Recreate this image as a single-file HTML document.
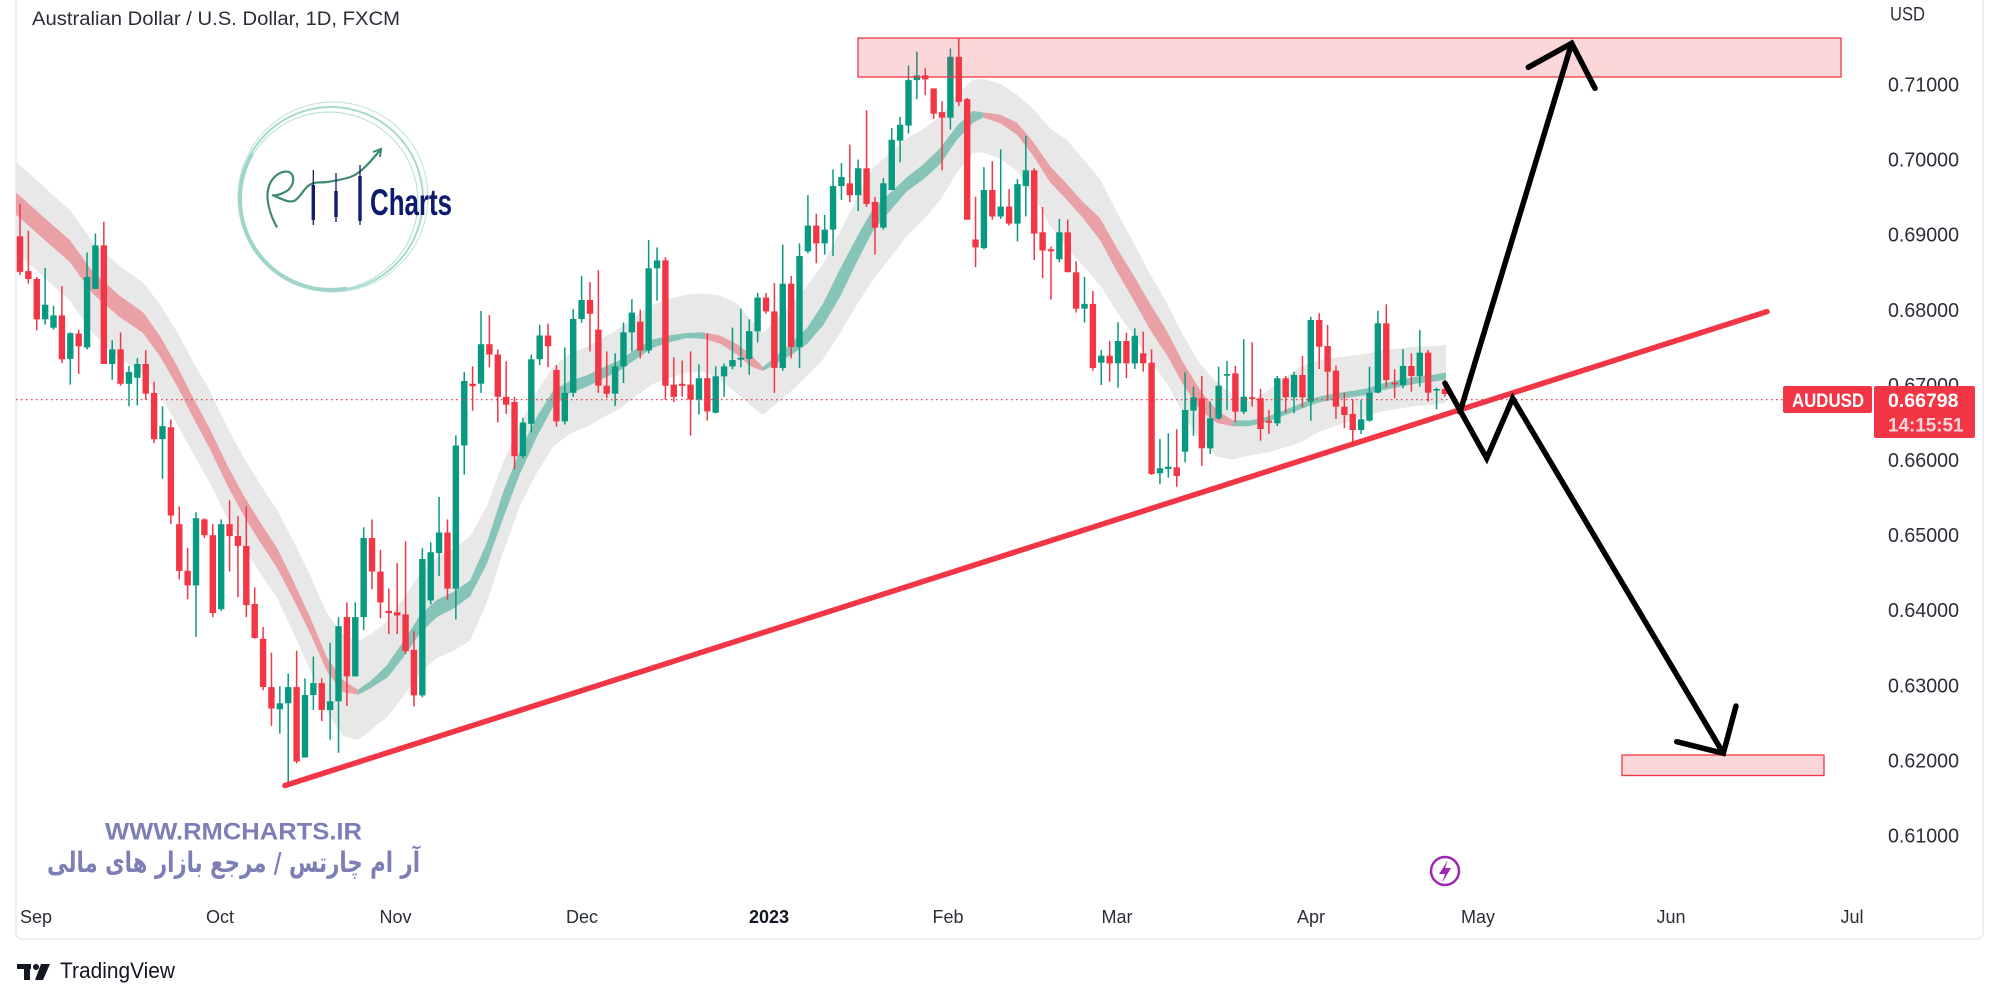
<!DOCTYPE html>
<html><head><meta charset="utf-8">
<style>
html,body{margin:0;padding:0;background:#fff;width:2000px;height:1000px;overflow:hidden}
svg{display:block;font-family:"Liberation Sans",Arial,sans-serif}
</style></head><body>
<svg id="s" width="2000" height="1000" viewBox="0 0 2000 1000" xmlns="http://www.w3.org/2000/svg">
<rect width="2000" height="1000" fill="#fff"/>
<rect x="16" y="-10" width="1967" height="949" rx="6" fill="none" stroke="#e6e8ee" stroke-width="1.5"/>
<text x="32" y="25" font-size="19" fill="#2a2e39" textLength="368" lengthAdjust="spacingAndGlyphs">Australian Dollar / U.S. Dollar, 1D, FXCM</text>

<!-- logo -->
<g fill="none">
<circle cx="331" cy="199" r="92" stroke="#a7d9cf" stroke-width="2"/>
<circle cx="333" cy="197" r="95" stroke="#c6e8e1" stroke-width="1.2"/>
<circle cx="329" cy="201" r="89" stroke="#bde3dc" stroke-width="1.2"/>
<path d="M346.8,288.6 A91,91 0 0 1 252.2,153.5" stroke="#9fd4ca" stroke-width="4"/>
<path d="M276.7,226.7 C270,215 266,200 268,190 C270,178 280,170 289,172 C296,175 294,188 285,192 C280,195 274,196 272,195 C280,198 288,203 294,201 C300,198 303,190 308,186 C314,181 320,183 327,182 C334,181 340,180 347,178 C355,176 360,172 366,166 C372,160 376,155 381,149" stroke="#3d8b6e" stroke-width="2.2" stroke-linecap="round"/>
<path d="M373,152 L381,149 L380,157" stroke="#3d8b6e" stroke-width="2"/>
</g>
<g fill="#141b6b" stroke="#141b6b">
<line x1="313.3" y1="170" x2="313.3" y2="225" stroke-width="1.3"/>
<rect x="311.6" y="185" width="3.4" height="35" stroke="none"/>
<line x1="336" y1="173" x2="336" y2="222" stroke-width="1.3"/>
<rect x="334.3" y="191" width="3.4" height="26" stroke="none"/>
<line x1="360" y1="165" x2="360" y2="225" stroke-width="1.3"/>
<rect x="358.3" y="176" width="3.4" height="45" stroke="none"/>
</g>
<text x="370" y="215" font-size="37" font-weight="bold" fill="#0d1a6e" textLength="82" lengthAdjust="spacingAndGlyphs">Charts</text>

<g id="env"></g><g id="rib"></g><g id="cdl"></g>

<!-- price line -->
<line x1="16" y1="399.6" x2="1783" y2="399.6" stroke="#f23645" stroke-width="1.3" stroke-dasharray="1.5,3.5"/>

<!-- rectangles -->
<rect x="858" y="38" width="983" height="39" fill="#f23645" fill-opacity="0.2" stroke="#f23645" stroke-width="1.3"/>
<rect x="1622" y="755" width="202" height="20.5" fill="#f23645" fill-opacity="0.2" stroke="#f23645" stroke-width="1.3"/>

<!-- trendline -->
<line x1="285" y1="785.5" x2="1767" y2="311.6" stroke="#f23645" stroke-width="5.5" stroke-linecap="round"/>

<!-- black arrows -->
<g fill="none" stroke="#000" stroke-width="5.5" stroke-linecap="round" stroke-linejoin="miter">
<path d="M1460,412 L1571.7,43.3"/>
<path d="M1528.3,67.3 L1571.7,43.3 L1595,88.3"/>
<path d="M1445,383.3 L1486.7,458.3 L1512.7,398.3 L1723.3,753.3"/>
<path d="M1676.7,741.7 L1723.3,753.3 L1736,706"/>
</g>

<!-- lightning icon -->
<circle cx="1445" cy="871" r="14" fill="#fff" stroke="#9c27b0" stroke-width="2.5"/>
<path d="M1448,860 L1439,874 L1445,874 L1442,883 L1451,868 L1445,868 Z" fill="#9c27b0"/>

<!-- watermark -->
<text x="105" y="839.3" font-size="24.5" font-weight="bold" fill="#7b7fb6" textLength="257" lengthAdjust="spacingAndGlyphs">WWW.RMCHARTS.IR</text>
<text x="233.5" y="872" font-size="28" font-weight="bold" fill="#7b7fb6" text-anchor="middle" direction="rtl" textLength="373" lengthAdjust="spacingAndGlyphs" style="font-family:'DejaVu Sans',sans-serif">آر ام چارتس / مرجع بازار های مالی</text>

<!-- price axis -->
<g font-size="20" fill="#2a2e39">
<text x="1890" y="20.7" font-size="19" textLength="35" lengthAdjust="spacingAndGlyphs">USD</text>
<text x="1888" y="91.5" textLength="71" lengthAdjust="spacingAndGlyphs">0.71000</text>
<text x="1888" y="166.6" textLength="71" lengthAdjust="spacingAndGlyphs">0.70000</text>
<text x="1888" y="241.7" textLength="71" lengthAdjust="spacingAndGlyphs">0.69000</text>
<text x="1888" y="316.8" textLength="71" lengthAdjust="spacingAndGlyphs">0.68000</text>
<text x="1888" y="391.9" textLength="71" lengthAdjust="spacingAndGlyphs">0.67000</text>
<text x="1888" y="467" textLength="71" lengthAdjust="spacingAndGlyphs">0.66000</text>
<text x="1888" y="542.1" textLength="71" lengthAdjust="spacingAndGlyphs">0.65000</text>
<text x="1888" y="617.2" textLength="71" lengthAdjust="spacingAndGlyphs">0.64000</text>
<text x="1888" y="692.3" textLength="71" lengthAdjust="spacingAndGlyphs">0.63000</text>
<text x="1888" y="767.4" textLength="71" lengthAdjust="spacingAndGlyphs">0.62000</text>
<text x="1888" y="842.5" textLength="71" lengthAdjust="spacingAndGlyphs">0.61000</text>
</g>
<rect x="1783" y="386" width="89" height="27" rx="2" fill="#f23645"/>
<text x="1792" y="407" font-size="19" font-weight="bold" fill="#fff" textLength="72" lengthAdjust="spacingAndGlyphs">AUDUSD</text>
<rect x="1874" y="386" width="101" height="52" rx="2" fill="#f23645"/>
<text x="1888" y="407" font-size="19.5" font-weight="bold" fill="#fff" textLength="70.5" lengthAdjust="spacingAndGlyphs">0.66798</text>
<text x="1888" y="431.5" font-size="19" font-weight="bold" fill="#fff" fill-opacity="0.8" textLength="75.5" lengthAdjust="spacingAndGlyphs">14:15:51</text>

<!-- time axis -->
<g font-size="18" fill="#2a2e39" text-anchor="middle">
<text x="36" y="923">Sep</text>
<text x="220" y="923">Oct</text>
<text x="395.5" y="923">Nov</text>
<text x="582" y="923">Dec</text>
<text x="769" y="923" font-weight="bold" fill="#131722">2023</text>
<text x="948" y="923">Feb</text>
<text x="1117" y="923">Mar</text>
<text x="1311" y="923">Apr</text>
<text x="1478" y="923">May</text>
<text x="1671" y="923">Jun</text>
<text x="1852" y="923">Jul</text>
</g>

<!-- TradingView footer -->
<g fill="#131722">
<rect x="17" y="964" width="14" height="5"/>
<rect x="24" y="964" width="6" height="16"/>
<circle cx="36" cy="967" r="3"/>
<polygon points="41,964 50,964 43,980 35,980"/>
</g>
<text x="60" y="978" font-size="22" fill="#131722" textLength="115" lengthAdjust="spacingAndGlyphs">TradingView</text>
</svg>

<script>
(function(){
const NS='http://www.w3.org/2000/svg';
function el(tag,a,p){const e=document.createElementNS(NS,tag);for(const k in a)e.setAttribute(k,a[k]);p.appendChild(e);return e;}
function lerp(arr,x,k){if(x<=arr[0][0])return arr[0][k];for(let i=1;i<arr.length;i++){if(x<=arr[i][0]){const a=arr[i-1],b=arr[i];const t=(x-a[0])/(b[0]-a[0]);return a[k]+(b[k]-a[k])*t;}}return arr[arr.length-1][k];}

const C=[[15,203],[20,207],[43,227.6],[70,251.3],[93,283],[120,306.7],[143,322.5],[160,346.2],[177,375.9],[193,407.5],[210,439.1],[227,474.7],[243,504.4],[260,532],[277,557.8],[293,589.4],[310,625],[327,664.5],[343,686.3],[358,692.2],[370,685],[387,671.6],[403,649.9],[420,624.2],[437,608.4],[453,600.5],[470,588.6],[487,553],[503,505.6],[520,462.1],[537,426.5],[553,398.8],[570,387],[587,381],[603,373.1],[620,365.2],[637,353.3],[653,343.5],[670,338.7],[687,335.5],[703,335.5],[720,339.5],[737,349.4],[750,360],[763,369],[773,362],[790,350],[807,336],[823,314.6],[840,283],[857,249.3],[873,219.7],[890,202],[907,184.1],[923,172.2],[940,156.4],[957,132.7],[973,116.9],[983,115],[1000,118.9],[1017,128.7],[1033,148.5],[1050,174.2],[1067,192],[1083,210],[1100,229],[1117,260],[1133,286.7],[1150,316.7],[1167,343.3],[1183,373.3],[1200,400],[1217,416.7],[1233,423.3],[1250,423.3],[1267,419.3],[1283,413.3],[1300,406.7],[1317,400],[1333,396.7],[1350,394.3],[1367,391.7],[1383,386.7],[1400,383.3],[1417,380],[1433,378.3],[1446,376]];
const T=[[15,22],[93,22],[177,20],[277,20],[343,12],[358,5],[377,9],[390,14],[420,18],[470,16],[503,26],[537,20],[570,12],[637,10],[687,5],[720,8],[750,12],[763,4],[807,16],[840,28],[873,22],[907,14],[940,16],[973,12],[983,5],[1017,12],[1050,16],[1083,16],[1100,22],[1150,26],[1200,20],[1233,6],[1267,5],[1333,6],[1400,7],[1446,7]];
const G=[[15,42,48],[143,40,52],[210,48,44],[277,48,40],[343,52,50],[377,50,45],[470,52,52],[520,38,44],[553,32,48],[637,38,42],[703,42,36],[737,46,44],[763,36,46],[807,50,40],[873,52,60],[940,40,44],[973,37,36],[1017,34,42],[1067,52,56],[1100,50,56],[1167,40,40],[1217,34,40],[1250,22,32],[1300,40,36],[1367,38,24],[1446,31,27]];

const env=document.getElementById('env'),rib=document.getElementById('rib'),cdl=document.getElementById('cdl');
// gray envelope
let up=[],dn=[];
for(let x=16;x<=1446;x+=2){const c=lerp(C,x,1);up.push(x+','+(c-lerp(G,x,1)).toFixed(1));dn.push(x+','+(c+lerp(G,x,2)).toFixed(1));}
el('polygon',{points:up.concat(dn.reverse()).join(' '),fill:'#e8e8e9'},env);
// ribbon
const segs=[[16,358,'#e9a1a5'],[358,705,'#86c4b7'],[705,763,'#e9a1a5'],[763,983,'#86c4b7'],[983,1233,'#e9a1a5'],[1233,1446,'#86c4b7']];
segs.forEach(s=>{let u=[],d=[];const xs=[];for(let x=s[0];x<s[1];x+=2)xs.push(x);xs.push(s[1]);
xs.forEach(x=>{const c=lerp(C,x,1),t=lerp(T,x,1)/2;u.push(x+','+(c-t).toFixed(1));d.push(x+','+(c+t).toFixed(1));});
el('polygon',{points:u.concat(d.reverse()).join(' '),fill:s[2]},rib);});

// candles
const tf={5:Y=>399.6+(Y-555)/2.529,6:Y=>399.6+(Y-632)/2.529,7:Y=>399.6+(Y-935)/2.529,8:Y=>210+Y/3};
const sets=[
[5,1,"60,142,232,240,r;128,230,250,262,r;245,250,352,380,r;222,315,352,365,g;318,342,373,378,g;268,342,453,463,r;385,387,452,517,g;378,388,420,490,r;183,245,423,428,g;135,165,275,275,g;105,165,465,465,r;405,428,465,505,g;385,428,515,520,r;470,485,515,572,g;450,465,500,570,g;430,465,540,555,r;510,538,655,665,r;572,622,655,755,g;605,625,848,870,r;825,870,988,1010,r;930,988,1025,1060,r;840,855,1025,1155,g;855,858,898,905,r;870,898,1095,1105,r;858,870,1085,1090,g;810,870,900,990,r;850,900,925,1055,r;825,925,1075,1105,r;1030,1072,1158,1160,r;1130,1160,1282,1290,r;1195,1282,1336,1380,r;1280,1323,1338,1400,g;1248,1282,1323,1525,g;1190,1282,1470,1475,r;1260,1302,1460,1460,g;1205,1272,1302,1340,g;1260,1272,1340,1368,r;1170,1318,1340,1415,g;1105,1128,1318,1448,g;1068,1105,1255,1330,r;1068,1105,1255,1255,g;878,905,1105,1138,g;858,905,990,1035,r;935,990,1068,1108,r"],
[6,45,"1110,1166,1172,1225,r;1045,1170,1178,1225,r;990,1175,1268,1275,r;1218,1265,1380,1408,r;1008,1035,1380,1385,g;993,1018,1140,1150,g;878,968,1020,1078,g;935,968,1110,1138,r;722,748,1110,1188,g;562,585,748,822,g;548,592,598,660,r;408,492,592,615,g;418,492,518,550,r;505,518,625,690,r;535,625,645,668,r;625,638,775,808,r;678,690,775,780,g;518,530,693,715,g;443,470,530,545,g;440,470,497,550,r;545,557,687,700,r;500,615,687,695,g;403,428,615,625,g;320,380,428,438,g;335,380,415,510,r;305,455,597,615,r;510,597,617,628,r;515,548,617,648,g;437,462,548,590,g;378,412,462,510,g;405,435,508,528,r;228,300,508,515,g;247,280,300,382,g;272,280,597,632,r;525,594,625,638,r;533,592,597,625,r;510,594,632,723,r;543,578,632,670,g;465,578,662,685,r;548,573,665,667,g;541,548,573,625,g;450,532,548,555,g;402,526,531,550,g"],
[7,88,"732,762,832,872,g;665,677,762,790,g;665,677,712,718,r;640,712,855,918,r;543,642,855,862,g;622,642,802,830,r;540,572,802,855,g;418,495,560,565,g;465,495,540,590,r;468,505,540,568,g;353,395,505,572,g;337,372,395,430,g;290,388,418,436,r;328,350,418,458,g;203,350,440,448,r;423,435,500,568,r;375,388,500,505,g;248,278,405,405,g;220,240,280,335,g;90,127,242,262,g;55,115,127,175,g;97,115,125,165,r;148,148,212,225,r;180,208,222,355,r;47,68,222,252,g;20,68,182,192,r;172,175,480,480,r;422,530,550,600,r;347,405,552,555,g;332,405,472,480,r;302,447,472,478,g;403,447,490,495,r;377,390,490,535,g;268,355,395,472,g;350,355,515,582,r;448,512,558,628,r;548,555,560,682,r;478,512,580,588,g;480,512,613,613,r;585,613,705,715,r;625,693,705,740,g;660,693,855,862,r"],
[8,130,"420,437,458,525,g;393,437,460,515,r;337,393,460,533,g;368,393,460,505,r;355,377,460,477,g;365,430,460,485,r;418,458,792,795,r;687,775,790,823,g;670,770,777,803,g;658,772,798,830,r;487,600,725,757,g;530,562,602,677,g;498,565,715,768,r;575,625,715,732,g;470,527,625,630,g;453,492,497,600,g;467,490,605,637,r;388,560,605,612,g;397,562,567,590,r;537,565,657,692,r;600,632,638,672,r;498,505,640,648,g;498,505,562,608,r;485,495,562,610,g;438,495,562,592,r;320,330,575,632,g;310,330,410,477,r;345,408,485,572,r;467,482,590,627,r;548,590,615,655,r;568,612,660,700,r;570,628,660,672,g;470,548,632,635,g;302,340,548,550,g;283,340,510,532,r;478,518,522,565,r;418,468,525,535,g;430,468,498,545,r;360,428,498,530,g;420,428,548,575,r;533,537,541,598,g;510,537,552,560,r"]
];
sets.forEach(([z,start,str])=>{const f=tf[z];str.split(';').forEach((s,j)=>{const p=s.split(',');const i=start+j;const x=20+(i-1)*8.382;
const wt=f(+p[0]),bt=f(+p[1]),bb=f(+p[2]),wb=f(+p[3]);const col=p[4]==='g'?'#089981':'#f23645';
el('line',{x1:x.toFixed(2),x2:x.toFixed(2),y1:wt.toFixed(1),y2:wb.toFixed(1),stroke:col,'stroke-width':1.5},cdl);
el('rect',{x:(x-3.2).toFixed(2),y:bt.toFixed(1),width:6.4,height:Math.max(1.6,bb-bt).toFixed(1),fill:col},cdl);});});
})();
</script>
</body></html>
